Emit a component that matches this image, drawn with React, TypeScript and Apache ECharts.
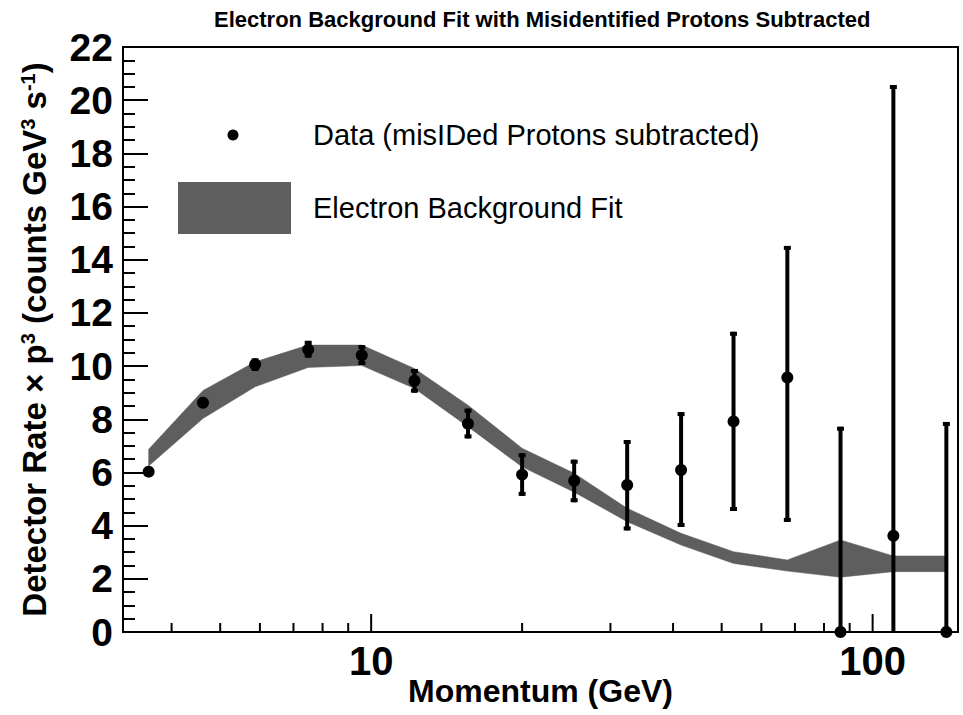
import React, { useEffect, useRef } from 'react';
import * as echarts from 'echarts';

// Momentum bin centres (GeV)
const momentum = [3.6, 4.62, 5.87, 7.49, 9.58, 12.2, 15.6, 20.0, 25.4, 32.4, 41.5, 52.8, 67.6, 86.3, 110, 140.3];
// Data (misIDed protons subtracted)
const rate = [6.03, 8.62, 10.06, 10.62, 10.41, 9.45, 7.83, 5.92, 5.69, 5.53, 6.09, 7.92, 9.57, 0, 3.62, 0];
const rateLow = [5.95, 8.5, 9.82, 10.32, 10.04, 9.0, 7.28, 5.12, 4.88, 3.82, 3.95, 4.55, 4.14, 0, 0, 0];
const rateHigh = [6.11, 8.74, 10.29, 10.95, 10.79, 9.89, 8.4, 6.72, 6.48, 7.22, 8.27, 11.29, 14.52, 7.72, 20.57, 7.9];
// Electron background fit band
const fitLow = [6.24, 8.03, 9.22, 9.95, 10.02, 9.16, 7.72, 6.21, 5.26, 4.15, 3.27, 2.58, 2.29, 2.06, 2.27, 2.27];
const fitHigh = [6.87, 9.08, 10.16, 10.79, 10.79, 9.91, 8.53, 6.91, 5.97, 4.65, 3.71, 3.02, 2.71, 3.46, 2.86, 2.86];
// Axis ticks
const xMajorTicks = [10, 100];
const xMinorTicks = [4, 5, 6, 7, 8, 9, 20, 30, 40, 50, 60, 70, 80, 90];

const FONT = 'Liberation Sans, Arial, Helvetica, sans-serif';
const BAND = '#5e5e5e';

export default function App() {
  const ref = useRef<HTMLDivElement>(null);
  useEffect(() => {
    const chart = echarts.init(ref.current as HTMLDivElement, null, { renderer: 'svg' });
    const option: any = {
      animation: false,
      backgroundColor: '#ffffff',
      title: {
        text: 'Electron Background Fit with Misidentified Protons Subtracted',
        left: 209,
        top: 3,
        textStyle: { fontFamily: FONT, fontWeight: 'bold', fontSize: 22, color: '#000' },
      },
      grid: {
        left: 123, right: 5, top: 47, bottom: 83,
        containLabel: false,
        outerBoundsMode: 'none',
        show: true, borderColor: '#000', borderWidth: 2, backgroundColor: 'transparent',
      },
      xAxis: {
        type: 'log',
        logBase: 10,
        min: 3.2,
        max: 148,
        name: 'Momentum (GeV)',
        nameLocation: 'middle',
        nameGap: 43,
        nameMoveOverlap: false,
        nameTextStyle: { fontFamily: FONT, fontWeight: 'bold', fontSize: 32, color: '#000' },
        axisLine: { lineStyle: { color: '#000', width: 2 } },
        axisTick: { show: false },
        minorTick: { show: false },
        splitLine: { show: false },
        minorSplitLine: { show: false },
        axisLabel: {
          showMinLabel: false,
          showMaxLabel: false,
          margin: 9,
          fontFamily: FONT, fontWeight: 'bold', fontSize: 40, color: '#000',
          formatter: (v: number) => {
            for (const t of xMajorTicks) if (Math.abs(v - t) < 1e-6 * t) return String(t);
            return '';
          },
        },
      },
      yAxis: {
        type: 'value',
        min: 0,
        max: 22,
        interval: 2,
        name: 'Detector Rate \u00d7 p{sup|3} (counts GeV{sup|3} s{sup|-1})',
        nameLocation: 'middle',
        nameGap: 72,
        nameMoveOverlap: false,
        nameTextStyle: {
          fontFamily: FONT, fontWeight: 'bold', fontSize: 33, color: '#000',
          rich: { sup: { fontFamily: FONT, fontWeight: 'bold', fontSize: 20, color: '#000', verticalAlign: 'top' } },
        },
        axisLine: { show: true, lineStyle: { color: '#000', width: 2 } },
        axisTick: { show: true, inside: true, length: 25, lineStyle: { color: '#000', width: 2 } },
        minorTick: { show: true, splitNumber: 4, length: 12, lineStyle: { color: '#000', width: 2 } },
        splitLine: { show: false },
        axisLabel: { margin: 10, fontFamily: FONT, fontWeight: 'bold', fontSize: 39, color: '#000' },
      },
      graphic: [
        { type: 'circle', shape: { cx: 233, cy: 135, r: 5.5 }, style: { fill: '#000' } },
        { type: 'text', x: 313, y: 135, style: { text: 'Data (misIDed Protons subtracted)', fontFamily: FONT, fontSize: 29, fill: '#000', verticalAlign: 'middle' } },
        { type: 'rect', shape: { x: 178, y: 182, width: 113, height: 52 }, style: { fill: BAND } },
        { type: 'text', x: 313, y: 208, style: { text: 'Electron Background Fit', fontFamily: FONT, fontSize: 29, fill: '#000', verticalAlign: 'middle' } },
      ],
      series: [
        {
          type: 'custom',
          name: 'fit',
          clip: false,
          data: momentum.map((x, i) => [x, fitLow[i], fitHigh[i]]),
          encode: { x: 0, y: [1, 2] },
          renderItem: (params: any, api: any) => {
            if (params.dataIndex !== 0) return null;
            const lower = momentum.map((x, i) => api.coord([x, fitLow[i]]));
            const upper = momentum.map((x, i) => api.coord([x, fitHigh[i]])).reverse();
            return {
              type: 'polygon',
              shape: { points: lower.concat(upper) },
              style: { fill: BAND, stroke: BAND, lineWidth: 0.5 },
            };
          },
        },
        {
          type: 'custom',
          name: 'ticks',
          clip: false,
          data: xMajorTicks.map((v) => [v, 1]).concat(xMinorTicks.map((v) => [v, 0])),
          encode: { x: 0, y: 1 },
          renderItem: (params: any, api: any) => {
            const p = api.coord([api.value(0), 0]);
            const len = api.value(1) ? 18 : 9;
            return {
              type: 'line',
              shape: { x1: p[0], y1: p[1], x2: p[0], y2: p[1] - len },
              style: { stroke: '#000', lineWidth: 2 },
            };
          },
        },
        {
          type: 'custom',
          name: 'data',
          clip: false,
          data: momentum.map((x, i) => [x, rate[i], rateLow[i], rateHigh[i]]),
          encode: { x: 0, y: 1 },
          renderItem: (params: any, api: any) => {
            const x = api.value(0), y = api.value(1), lo = api.value(2), hi = api.value(3);
            const c = api.coord([x, y]);
            const pl = api.coord([x, lo]);
            const ph = api.coord([x, hi]);
            const children: any[] = [];
            if (pl[1] - ph[1] > 12) {
              children.push({ type: 'line', shape: { x1: c[0], y1: pl[1], x2: c[0], y2: ph[1] }, style: { stroke: '#000', lineWidth: 4 } });
              if (hi > y) children.push({ type: 'rect', shape: { x: c[0] - 3.5, y: ph[1], width: 7, height: 4 }, style: { fill: '#000' } });
              if (lo > 0) children.push({ type: 'rect', shape: { x: c[0] - 3.5, y: pl[1] - 4, width: 7, height: 4 }, style: { fill: '#000' } });
            }
            children.push({ type: 'circle', shape: { cx: c[0], cy: c[1], r: 6 }, style: { fill: '#000' } });
            return { type: 'group', children };
          },
        },
      ],
    };
    chart.setOption(option);
    return () => chart.dispose();
  }, []);
  return <div ref={ref} style={{ position: 'fixed', left: 0, top: 0, width: 963, height: 715, background: '#fff' }} />;
}
